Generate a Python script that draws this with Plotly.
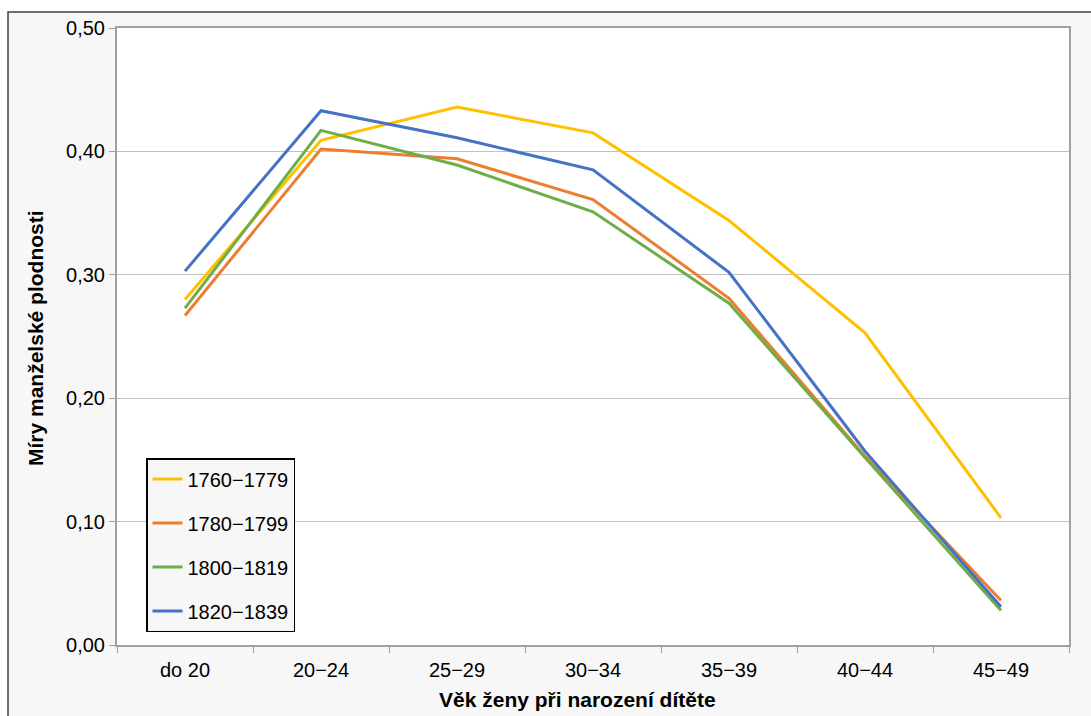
import plotly.graph_objects as go

categories = ["do 20", "20\u221224", "25\u221229", "30\u221234", "35\u221239", "40\u221244", "45\u221249"]
series_names = ["1760\u22121779", "1780\u22121799", "1800\u22121819", "1820\u22121839"]
v1760 = [0.280, 0.409, 0.436, 0.415, 0.344, 0.253, 0.103]
v1780 = [0.267, 0.402, 0.394, 0.361, 0.281, 0.153, 0.036]
v1800 = [0.273, 0.417, 0.389, 0.351, 0.277, 0.152, 0.028]
v1820 = [0.303, 0.433, 0.411, 0.385, 0.302, 0.157, 0.031]
colors = ["#FFC000", "#ED7D31", "#70AD47", "#4472C4"]
y_ticks = [0.0, 0.1, 0.2, 0.3, 0.4, 0.5]

W, H = 1091, 716
L, R, T, B = 117, 22, 28, 71
pw, ph = W - L - R, H - T - B

def px2x(px):
    return (px - L) / pw

def py2y(py):
    return (H - B - py) / ph

fig = go.Figure()
for i, (name, vals) in enumerate(zip(series_names, [v1760, v1780, v1800, v1820])):
    fig.add_trace(go.Scatter(
        x=categories, y=vals, name=name, mode="lines",
        line=dict(color=colors[i], width=3),
        legendgroup=f"g{i}",
    ))

font_family = "Liberation Sans, Arial, sans-serif"

fig.update_layout(
    width=W, height=H,
    margin=dict(l=L, r=R, t=T, b=B, autoexpand=False),
    paper_bgcolor="white",
    plot_bgcolor="white",
    separators=", ",
    font=dict(family=font_family, size=20, color="black"),
    showlegend=True,
    legend=dict(
        x=px2x(146), y=py2y(458), xanchor="left", yanchor="top",
        bgcolor="#f7f7f7", bordercolor="black", borderwidth=1.5,
        font=dict(size=20, family=font_family),
        tracegroupgap=15,
        itemwidth=30,
    ),
    xaxis=dict(
        type="category",
        range=[-0.5, 6.5],
        showgrid=False,
        showline=True, linecolor="#a0a0a0", linewidth=2, mirror=True,
        ticks="outside", tickson="boundaries", ticklen=6, tickcolor="#a0a0a0",
        tickfont=dict(size=20),
        ticklabelstandoff=6,
    ),
    yaxis=dict(
        range=[0, 0.5],
        tickvals=y_ticks,
        tickformat=".2f",
        showgrid=True, gridcolor="#c0c0c0", gridwidth=1,
        showline=True, linecolor="#a0a0a0", linewidth=2, mirror=True,
        ticks="outside", ticklen=6, tickcolor="#a0a0a0",
        tickfont=dict(size=20),
        zeroline=False,
    ),
    shapes=[
        dict(type="rect", xref="paper", yref="paper", layer="below",
             x0=px2x(8), x1=px2x(1200), y0=py2y(800), y1=py2y(12),
             fillcolor="#f7f7f7", line=dict(color="#404040", width=1.5)),
        dict(type="rect", xref="paper", yref="paper", layer="below",
             x0=0, x1=1, y0=0, y1=1,
             fillcolor="white", line=dict(width=0)),
    ],
    annotations=[
        dict(text="<b>V\u011bk \u017eeny p\u0159i narozen\u00ed d\u00edt\u011bte</b>",
             xref="paper", yref="paper", x=px2x(577), y=py2y(700),
             xanchor="center", yanchor="middle", showarrow=False,
             font=dict(size=21, family=font_family)),
        dict(text="<b>M\u00edry man\u017eelsk\u00e9 plodnosti</b>",
             xref="paper", yref="paper", x=px2x(35), y=py2y(338),
             xanchor="center", yanchor="middle", showarrow=False, textangle=-90,
             font=dict(size=21, family=font_family)),
    ],
)

fig.write_html("out.html", config={"displayModeBar": False},
               post_script="document.body.style.margin='0px';")
